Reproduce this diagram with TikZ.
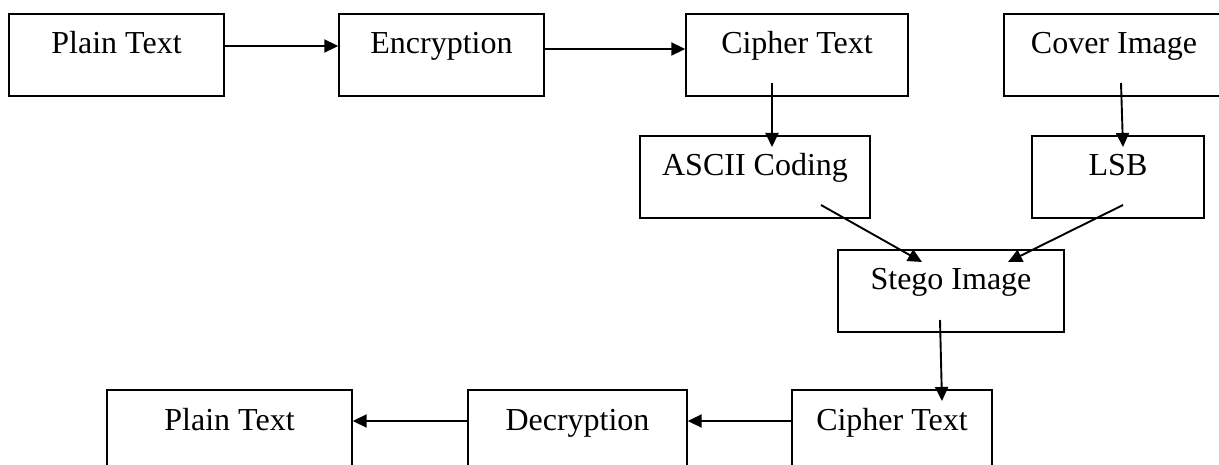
\documentclass[tikz,border=0pt]{standalone}
\usepackage{fontspec}
\setmainfont{Liberation Serif}
\usetikzlibrary{arrows.meta}
\begin{document}
\begin{tikzpicture}[x=1pt,y=-1pt,
  box/.style={draw, line width=1.4pt, inner sep=0pt, text height=40pt, text depth=42pt,
    font=\fontsize{32}{38}\selectfont, align=center},
  conn/.style={line width=1.9pt, -{Triangle[length=14pt,width=13pt]}}]
\useasboundingbox (0,0) rectangle (1219,465);
% top row
\node[box, minimum width=215pt] (pt1) at (116.5,55) {Plain Text};
\node[box, minimum width=205pt] (enc) at (441.5,55) {Encryption};
\node[box, minimum width=222pt] (ct1) at (797,55) {Cipher Text};
\node[box, minimum width=220pt] (cov) at (1114,55) {Cover Image};
% middle
\node[box, minimum width=230pt] (asc) at (755,177) {ASCII Coding};
\node[box, minimum width=172pt] (lsb) at (1118,177) {LSB};
\node[box, minimum width=226pt] (stg) at (951,291) {Stego Image};
% bottom
\node[box, minimum width=245pt] (pt2) at (229.5,431) {Plain Text};
\node[box, minimum width=219pt] (dec) at (577.5,431) {Decryption};
\node[box, minimum width=200pt] (ct2) at (892,431) {Cipher Text};
% connectors
\draw[conn] ([yshift=9pt]pt1.east) -- ([yshift=9pt]enc.west);
\draw[conn] ([yshift=6pt]enc.east) -- ([yshift=6pt]ct1.west);
\draw[conn] ([xshift=-25pt,yshift=-28pt]ct1.center) -- ([xshift=17pt,yshift=30pt]asc.center);
\draw[conn] ([xshift=7pt,yshift=-28pt]cov.center) -- ([xshift=5pt,yshift=30pt]lsb.center);
\draw[conn] ([xshift=66pt,yshift=-28pt]asc.center) -- ([xshift=-29pt,yshift=29pt]stg.center);
\draw[conn] ([xshift=5pt,yshift=-28pt]lsb.center) -- ([xshift=57pt,yshift=29pt]stg.center);
\draw[conn] ([xshift=-11pt,yshift=-29pt]stg.center) -- ([xshift=50pt,yshift=30pt]ct2.center);
\draw[conn] ([yshift=10pt]ct2.west) -- ([yshift=10pt]dec.east);
\draw[conn] ([yshift=10pt]dec.west) -- ([yshift=10pt]pt2.east);
\end{tikzpicture}
\end{document}
